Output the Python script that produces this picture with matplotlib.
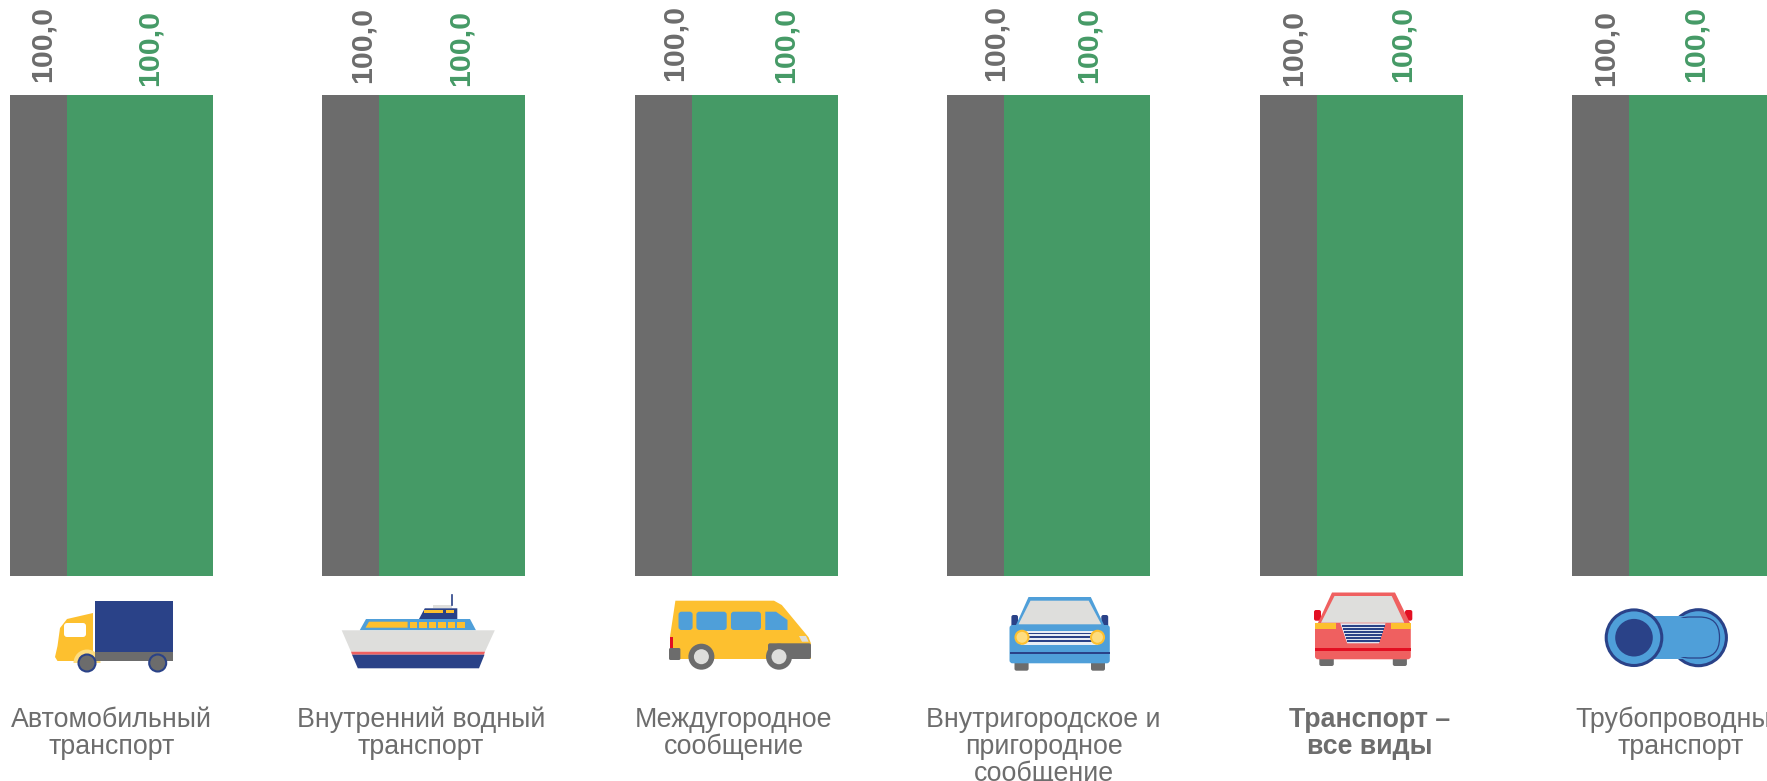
import matplotlib
matplotlib.use('Agg')
import matplotlib.pyplot as plt
import numpy as np
from matplotlib.patches import Polygon, Rectangle, Ellipse, FancyBboxPatch, Wedge

plt.rcParams['font.family'] = ['Liberation Sans', 'DejaVu Sans']

categories = ['Автомобильный\nтранспорт', 'Внутренний водный\nтранспорт',
              'Междугородное\nсообщение', 'Внутригородское и\nпригородное\nсообщение',
              'Транспорт –\nвсе виды', 'Трубопроводный\nтранспорт']
gray_values = [100.0, 100.0, 100.0, 100.0, 100.0, 100.0]
green_values = [100.0, 100.0, 100.0, 100.0, 100.0, 100.0]

GRAY = '#6c6c6c'
GREEN = '#459a66'
TEXT = '#6d6d6d'
NAVY = '#2a4288'
YELLOW = '#fdc02f'
LYELLOW = '#fedd7f'
BLUE = '#4f9fd9'
LGRAY = '#dededc'
RED = '#ef6060'
DRED = '#e30f22'

W, H = 1767, 781
PERIOD = 312.4  # px between groups
GRAY_W = 57
GREEN_W = 146

# small shifts of the labels, px
gray_dx = [4.5, 12, 11.5, 19.5, 5.5, 5.5]
green_dx = [9.5, 8.5, 20.5, 11.5, 13.5, -6.5]
gray_up = [13, 12, 14, 14, 9, 9]
green_up = [9, 9, 12, 12, 13, 13]
cat_dx = [0, -2.8, -2.8, -5, 9, 6.8]

fig = plt.figure(figsize=(W / 100, H / 100), dpi=100)
ax = fig.add_axes([0, (H - 576) / H, 1, (576 - 95) / H])
x = np.arange(len(categories))
x0 = -(10 + GRAY_W / 2) / PERIOD
ax.set_xlim(x0, x0 + W / PERIOD)
ax.set_ylim(0, 100)
off = (GRAY_W + GREEN_W) / 2 / PERIOD
ax.bar(x, gray_values, width=GRAY_W / PERIOD, color=GRAY)
ax.bar(x + off, green_values, width=GREEN_W / PERIOD, color=GREEN)

for i in x:
    ax.annotate(f'{gray_values[i]:.1f}'.replace('.', ','), (i, gray_values[i]),
                xytext=(gray_dx[i] * 0.72, gray_up[i] * 0.72), textcoords='offset points',
                rotation=90, ha='center', va='bottom', fontsize=21.8,
                fontweight='bold', color=GRAY, annotation_clip=False)
    ax.annotate(f'{green_values[i]:.1f}'.replace('.', ','), (i + off, green_values[i]),
                xytext=(green_dx[i] * 0.72, green_up[i] * 0.72), textcoords='offset points',
                rotation=90, ha='center', va='bottom', fontsize=21.8,
                fontweight='bold', color=GREEN, annotation_clip=False)

ax.set_xticks(x + ((GREEN_W / 2) + np.array(cat_dx)) / PERIOD)
ax.set_xticklabels(categories, fontsize=19.3, color=TEXT, linespacing=1.03)
ax.get_xticklabels()[4].set_fontweight('bold')
ax.tick_params(axis='x', length=0, pad=94.3)
ax.set_yticks([])
for s in ax.spines.values():
    s.set_visible(False)

# icons, in image pixels
ov = fig.add_axes([0, 0, 1, 1], zorder=5)
ov.set_xlim(0, W)
ov.set_ylim(H, 0)
ov.axis('off')
ov.patch.set_alpha(0)


def rect(x1, y1, x2, y2, c):
    ov.add_patch(Rectangle((x1, y1), x2 - x1, y2 - y1, fc=c, ec='none'))


def rrect(x1, y1, x2, y2, c, r=2):
    ov.add_patch(FancyBboxPatch((x1 + r, y1 + r), x2 - x1 - 2 * r, y2 - y1 - 2 * r,
                                boxstyle=f'round,pad={r},rounding_size={r}', fc=c, ec='none'))


def poly(pts, c):
    ov.add_patch(Polygon(pts, closed=True, fc=c, ec='none'))


def circ(cx, cy, r, c, ec='none', lw=0):
    ov.add_patch(Ellipse((cx, cy), 2 * r, 2 * r, fc=c, ec=ec, lw=lw))


# truck
poly([(93, 613), (67, 619), (60, 628), (57.5, 646), (55, 657), (57.5, 661), (93, 661)], YELLOW)
rrect(64, 623, 86, 637, 'white', 3)
ov.add_patch(Wedge((87, 663), 13.5, 180, 360, fc=LYELLOW, ec='none'))
rect(94.5, 601, 173, 652, NAVY)
rect(94.5, 652, 173, 661, GRAY)
circ(87, 663, 8.5, GRAY, NAVY, 1.5)
circ(157.7, 663, 8.5, GRAY, NAVY, 1.5)

# ship
ov.plot([451.6, 451.6], [595, 605], color=NAVY, lw=1.2)
rect(432.5, 605, 451.6, 608.3, LGRAY)
poly([(419, 619), (424.8, 608.3), (457.3, 608.3), (457.3, 619)], NAVY)
rect(423.6, 610, 443, 613.3, YELLOW)
rect(446, 610, 454, 613.3, YELLOW)
poly([(359.7, 630.3), (366, 619), (470, 619), (476, 630.3)], BLUE)
poly([(365.5, 627.7), (369, 621.7), (407.6, 621.7), (407.6, 627.7)], YELLOW)
for wx in [409.5, 419, 428.5, 438.2, 447.8, 457.3]:
    rect(wx, 621.7, wx + 7.6, 627.7, YELLOW)
poly([(341.7, 630.3), (494.8, 630.3), (485, 651.7), (351, 651.7)], LGRAY)
poly([(351, 651.7), (485, 651.7), (484, 654.7), (352, 654.7)], RED)
poly([(352, 654.7), (484.5, 654.7), (479, 668.3), (357.8, 668.3)], NAVY)

# van
poly([(675.4, 600.7), (774, 600.7), (781.8, 605), (808.6, 637.3), (810.9, 643.3),
      (810.9, 659), (670.8, 659), (670, 636.7)], YELLOW)
rrect(678.5, 611.7, 692.6, 630, BLUE, 3)
rrect(696.4, 611.7, 726.7, 630, BLUE, 3)
rrect(730.9, 611.7, 761, 630, BLUE, 3)
poly([(765.3, 611.7), (776, 611.7), (787.5, 620), (787.5, 630), (765.3, 630)], BLUE)
poly([(799, 636), (806, 636), (808.6, 641.7), (802, 641.7)], LGRAY)
rrect(768, 643.3, 811, 659, GRAY, 2)
rect(670.4, 636.7, 672.7, 648, DRED)
rrect(669, 648, 680.4, 660, GRAY, 1.5)
circ(701.4, 656.7, 13, GRAY)
circ(701.4, 656.7, 7.5, LGRAY)
circ(779, 656.7, 13, GRAY)
circ(779, 656.7, 7.5, LGRAY)

# blue car
rrect(1014.5, 660, 1028.6, 670.7, GRAY, 2)
rrect(1091, 660, 1105, 670.7, GRAY, 2)
rrect(1011.4, 615, 1018, 627, NAVY, 2)
rrect(1101.3, 615, 1108.2, 627, NAVY, 2)
poly([(1016, 625), (1028.5, 597), (1090.8, 597), (1104, 625)], BLUE)
poly([(1018.5, 624.3), (1030.5, 600.7), (1088.7, 600.7), (1101.3, 624.3)], LGRAY)
rrect(1009.5, 625, 1109.8, 663.3, BLUE, 3)
rect(1021, 631, 1097.5, 645, '#e8eef5')
for ly in [633.3, 637, 641]:
    rect(1021, ly - 0.7, 1097.5, ly + 0.7, NAVY)
rect(1009.5, 651.7, 1109.8, 654.3, NAVY)
circ(1022, 637.3, 6.5, LYELLOW, YELLOW, 1.5)
circ(1097.5, 637.3, 6.5, LYELLOW, YELLOW, 1.5)

# red car
rrect(1319.3, 656, 1333.8, 666, GRAY, 2)
rrect(1392.8, 656, 1406.9, 666, GRAY, 2)
rrect(1314, 610, 1321, 620.7, DRED, 2)
rrect(1405, 610, 1412.3, 620.7, DRED, 2)
poly([(1317, 625), (1332, 592.5), (1395, 592.5), (1411, 625)], RED)
poly([(1321, 622.7), (1334.5, 596), (1391.7, 596), (1404.3, 622.7)], LGRAY)
rrect(1315, 623.3, 1410.8, 659.3, RED, 3)
rect(1315, 623.3, 1335.6, 629.3, YELLOW)
rect(1390.6, 623.3, 1410.8, 629.3, YELLOW)
poly([(1340.3, 623.3), (1385.5, 623.3), (1379, 643.3), (1347.2, 643.3)], '#dfe5f0')
for gy, xa, xb in [(625, 1341.5, 1384.5), (628, 1342.5, 1383.5), (631, 1343.5, 1382.5),
                   (634, 1344.5, 1381.5), (637, 1345.5, 1380.5), (640, 1346.5, 1379.5)]:
    rect(xa, gy, xb, gy + 1.7, NAVY)
rect(1315, 648, 1410.8, 650.7, DRED)

# pipe
circ(1698.4, 637.7, 28, BLUE, NAVY, 2.2)
rect(1634, 616, 1698, 659, BLUE)
ov.add_patch(FancyBboxPatch((1670, 617), 49.5, 41, boxstyle='round,pad=0,rounding_size=20',
                            fc=BLUE, ec=NAVY, lw=0.9))
rect(1655, 618, 1690, 657, BLUE)
circ(1634, 637.7, 27.8, BLUE, NAVY, 2.2)
circ(1634, 637.7, 18.8, NAVY)

fig.savefig('out.png', dpi=100)
